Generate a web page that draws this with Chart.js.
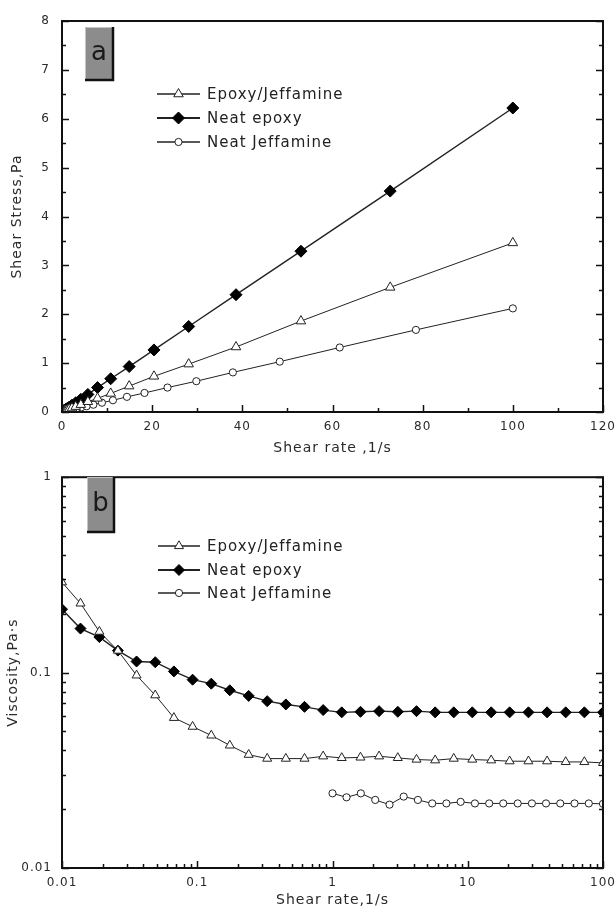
<!DOCTYPE html>
<html>
<head>
<meta charset="utf-8">
<script src="https://cdn.jsdelivr.net/npm/chart.js@4.4.1/dist/chart.umd.min.js"></script>
<style>
  html, body { margin: 0; padding: 0; background: #fff; }
  #wrap { position: relative; width: 615px; height: 908px; overflow: hidden; }
  canvas { position: absolute; left: 0; }
  #stress { top: 0; }
  #visc { top: 460px; }
</style>
</head>
<body>
<div id="wrap">
  <canvas id="stress" width="615" height="460"></canvas>
  <canvas id="visc" width="615" height="448"></canvas>
</div>
<script>
// series names
const seriesNames = ["Epoxy/Jeffamine", "Neat epoxy", "Neat Jeffamine"];

// shear rates (1/s) of the epoxy/jeffamine and neat epoxy runs
const rateEpoxy = [0.01, 0.0137, 0.0189, 0.0259, 0.0356, 0.0489, 0.0672, 0.0924, 0.127, 0.174,
  0.240, 0.329, 0.452, 0.621, 0.853, 1.17, 1.61, 2.21, 3.04, 4.18,
  5.74, 7.88, 10.8, 14.9, 20.4, 28.1, 38.6, 53.0, 72.8, 100];
// shear rates of the neat jeffamine run
const rateJeff = [1, 1.27, 1.62, 2.07, 2.64, 3.36, 4.28, 5.46, 6.95, 8.86,
  11.3, 14.4, 18.3, 23.4, 29.8, 37.9, 48.3, 61.6, 78.5, 100];

// (a) shear stress, Pa
const stressEJ = [0.0029, 0.0031, 0.0031, 0.0033, 0.0034, 0.0037, 0.0039, 0.0049, 0.006, 0.0074,
  0.009, 0.012, 0.016, 0.023, 0.032, 0.043, 0.06, 0.08, 0.11, 0.15,
  0.21, 0.28, 0.38, 0.53, 0.73, 0.98, 1.33, 1.86, 2.55, 3.46];
const stressEpoxy = [0.0021, 0.0023, 0.0029, 0.0034, 0.0041, 0.0056, 0.0068, 0.0085, 0.011, 0.014,
  0.018, 0.023, 0.031, 0.041, 0.055, 0.073, 0.10, 0.14, 0.19, 0.26,
  0.36, 0.50, 0.68, 0.93, 1.27, 1.75, 2.40, 3.29, 4.52, 6.22];
const stressJeff = [0.024, 0.03, 0.037, 0.045, 0.056, 0.075, 0.094, 0.117, 0.149, 0.19,
  0.24, 0.31, 0.39, 0.50, 0.63, 0.81, 1.03, 1.32, 1.68, 2.12];

// (b) viscosity, Pa·s
const viscEJ = [0.29, 0.226, 0.162, 0.1296, 0.0968, 0.0766, 0.0587, 0.0529, 0.0477, 0.0424,
  0.038, 0.0363, 0.0363, 0.0363, 0.0373, 0.0366, 0.0368, 0.0373, 0.0366, 0.0359,
  0.0356, 0.0363, 0.0359, 0.0356, 0.0352, 0.0352, 0.0352, 0.0349, 0.0349, 0.0345];
const viscEpoxy = [0.211, 0.168, 0.152, 0.1296, 0.114, 0.113, 0.1014, 0.092, 0.0878, 0.0812,
  0.076, 0.0714, 0.0687, 0.0668, 0.0643, 0.0626, 0.063, 0.0635, 0.063, 0.0635,
  0.0626, 0.0626, 0.0626, 0.0626, 0.0626, 0.0626, 0.0626, 0.0626, 0.0626, 0.0626];
const viscJeff = [0.0241, 0.0230, 0.0241, 0.0223, 0.0211, 0.0232, 0.0223, 0.0214, 0.0214, 0.0218,
  0.0214, 0.0214, 0.0214, 0.0214, 0.0214, 0.0214, 0.0214, 0.0214, 0.0214, 0.0213];

// tick labels
const rateTicksLin = [0, 20, 40, 60, 80, 100, 120];
const rateMinorLin = [10, 30, 50, 70, 90, 110];
const stressTicks = [0, 1, 2, 3, 4, 5, 6, 7, 8];
const stressMinor = [0.5, 1.5, 2.5, 3.5, 4.5, 5.5, 6.5, 7.5];
const rateTicksLog = [0.01, 0.1, 1, 10, 100];
const viscTicks = [0.01, 0.1, 1];

// small ticks between the decades
function logMinor(decades) {
  const out = [];
  decades.slice(0, -1).forEach(d => { for (let k = 2; k <= 9; k++) out.push(+(d * k).toPrecision(3)); });
  return out;
}

const pts = (xs, ys) => xs.map((x, i) => ({ x: x, y: ys[i] }));

const INK = "#222";
const tickFont = { family: "DejaVu Sans", size: 12 };
const titleFont = { family: "DejaVu Sans", size: 14, lineHeight: 1.1 };

// frame + inward ticks (bottom, left, right)
function frameTicks(xMajor, xMinor, yMajor, yMinor) {
  return {
    id: "frameTicks",
    beforeDraw(chart) { chart.ctx.letterSpacing = "1px"; },
    afterDraw(chart) {
      const ctx = chart.ctx;
      const a = chart.chartArea;
      const sx = chart.scales.x, sy = chart.scales.y;
      ctx.save();
      ctx.strokeStyle = "#111";
      ctx.lineWidth = 1.5;
      ctx.beginPath();
      const xt = (vals, len) => vals.forEach(v => {
        const px = Math.round(sx.getPixelForValue(v)) + 0.5;
        ctx.moveTo(px, a.bottom); ctx.lineTo(px, a.bottom - len);
      });
      const yt = (vals, len) => vals.forEach(v => {
        const py = Math.round(sy.getPixelForValue(v)) + 0.5;
        ctx.moveTo(a.left, py); ctx.lineTo(a.left + len, py);
        ctx.moveTo(a.right, py); ctx.lineTo(a.right - len, py);
      });
      xt(xMajor, 7); xt(xMinor, 4);
      yt(yMajor, 7); yt(yMinor, 4);
      ctx.stroke();
      ctx.lineWidth = 2;
      ctx.strokeRect(a.left, a.top, a.right - a.left, a.bottom - a.top);
      ctx.restore();
    }
  };
}

// legend inside the plot + the grey letter tag
function legendTag(rows, x0, x1, tx, box, letter) {
  return {
    id: "legendTag",
    afterDraw(chart) {
      const ctx = chart.ctx;
      ctx.save();
      chart.data.datasets.forEach((ds, i) => {
        const yy = rows[i];
        ctx.strokeStyle = INK;
        ctx.lineWidth = i === 1 ? 2.2 : 1.5;
        ctx.beginPath(); ctx.moveTo(x0, yy); ctx.lineTo(x1, yy); ctx.stroke();
        ctx.fillStyle = ds.pointBackgroundColor;
        ctx.strokeStyle = ds.pointBorderColor;
        ctx.lineWidth = 1;
        Chart.helpers.drawPoint(ctx, { pointStyle: ds.pointStyle, radius: ds.pointRadius, borderWidth: 1, rotation: 0 }, (x0 + x1) / 2, yy);
        ctx.fillStyle = INK;
        ctx.font = "15px 'DejaVu Sans'";
        ctx.letterSpacing = "1px";
        ctx.textBaseline = "middle";
        ctx.textAlign = "left";
        ctx.fillText(ds.label, tx, yy + 1);
      });
      // tag box
      const [bx, by, bw, bh] = box;
      ctx.fillStyle = "#8c8c8c";
      ctx.fillRect(bx, by, bw, bh);
      ctx.strokeStyle = "#c4c4c4"; ctx.lineWidth = 1;
      ctx.beginPath(); ctx.moveTo(bx + 0.5, by + bh); ctx.lineTo(bx + 0.5, by + 0.5); ctx.lineTo(bx + bw, by + 0.5); ctx.stroke();
      ctx.strokeStyle = "#111"; ctx.lineWidth = 2.5;
      ctx.beginPath(); ctx.moveTo(bx + bw, by); ctx.lineTo(bx + bw, by + bh); ctx.lineTo(bx, by + bh); ctx.stroke();
      ctx.fillStyle = "#1a1a1a";
      ctx.font = "26px 'DejaVu Sans'";
      ctx.letterSpacing = "0px";
      ctx.textAlign = "center";
      ctx.textBaseline = "middle";
      ctx.fillText(letter, bx + bw / 2, by + bh / 2);
      ctx.restore();
    }
  };
}

function makeSets(xEJ, yEJ, xEp, yEp, xJ, yJ, big) {
  return [
    { label: seriesNames[0], data: pts(xEJ, yEJ), borderColor: INK, borderWidth: 1,
      pointStyle: "triangle", pointRadius: big ? 5.5 : 5.2, pointBackgroundColor: "#fff", pointBorderColor: INK, pointBorderWidth: 1 },
    { label: seriesNames[1], data: pts(xEp, yEp), borderColor: INK, borderWidth: 1.4,
      pointStyle: "rectRot", pointRadius: big ? 6 : 5.5, pointBackgroundColor: "#000", pointBorderColor: "#000", pointBorderWidth: 1 },
    { label: seriesNames[2], data: pts(xJ, yJ), borderColor: INK, borderWidth: 1,
      pointStyle: "circle", pointRadius: 3.6, pointBackgroundColor: "#fff", pointBorderColor: INK, pointBorderWidth: 1 }
  ];
}

function axis(cfg) {
  return {
    type: cfg.type, min: cfg.min, max: cfg.max, position: cfg.position,
    afterBuildTicks: s => { s.ticks = cfg.ticks.map(v => ({ value: v })); },
    afterFit: s => { if (cfg.position === "left") s.width = cfg.size; else s.height = cfg.size; s.paddingLeft = 0; s.paddingRight = 0; },
    grid: { display: false, drawTicks: false },
    border: { display: false },
    ticks: { color: "#2a2a2a", font: tickFont, padding: cfg.pad, autoSkip: false, maxRotation: 0, callback: v => String(v) },
    title: { display: true, text: cfg.title, color: "#2a2a2a", font: titleFont, padding: cfg.titlePad }
  };
}

function baseOptions(xAxis, yAxis, pad) {
  return {
    responsive: false,
    devicePixelRatio: 1,
    animation: false,
    events: [],
    layout: { padding: pad },
    elements: { line: { tension: 0 } },
    plugins: { legend: { display: false }, tooltip: { enabled: false } },
    scales: { x: xAxis, y: yAxis }
  };
}

// (a) shear stress vs shear rate
new Chart(document.getElementById("stress"), {
  type: "line",
  data: { datasets: makeSets(rateEpoxy, stressEJ, rateEpoxy, stressEpoxy, rateJeff, stressJeff, true) },
  options: baseOptions(
    axis({ type: "linear", min: 0, max: 120, position: "bottom", ticks: rateTicksLin, size: 48, pad: 8,
      title: "Shear rate ,1/s", titlePad: { top: 0, bottom: 4 } }),
    axis({ type: "linear", min: 0, max: 8, position: "left", ticks: stressTicks, size: 62, pad: 12,
      title: "Shear Stress,Pa", titlePad: { top: 10, bottom: 0 } }),
    { top: 21, right: 12, left: 0, bottom: 0 }
  ),
  plugins: [
    frameTicks(rateTicksLin, rateMinorLin, stressTicks, stressMinor),
    legendTag([94, 118, 142], 157, 200, 207, [85, 27, 28, 53], "a")
  ]
});

// (b) viscosity vs shear rate, log-log
new Chart(document.getElementById("visc"), {
  type: "line",
  data: { datasets: makeSets(rateEpoxy, viscEJ, rateEpoxy, viscEpoxy, rateJeff, viscJeff, false) },
  options: baseOptions(
    axis({ type: "logarithmic", min: 0.01, max: 100, position: "bottom", ticks: rateTicksLog, size: 40, pad: 8,
      title: "Shear rate,1/s", titlePad: { top: 0, bottom: 0 } }),
    axis({ type: "logarithmic", min: 0.01, max: 1, position: "left", ticks: viscTicks, size: 62, pad: 10,
      title: "Viscosity,Pa·s", titlePad: { top: 6, bottom: 0 } }),
    { top: 12, right: 12, left: 0, bottom: 0 }
  ),
  plugins: [
    frameTicks(rateTicksLog, logMinor(rateTicksLog), viscTicks, logMinor(viscTicks)),
    legendTag([86, 110, 133], 158, 200, 207, [87, 17, 27, 55], "b")
  ]
});
</script>
</body>
</html>
